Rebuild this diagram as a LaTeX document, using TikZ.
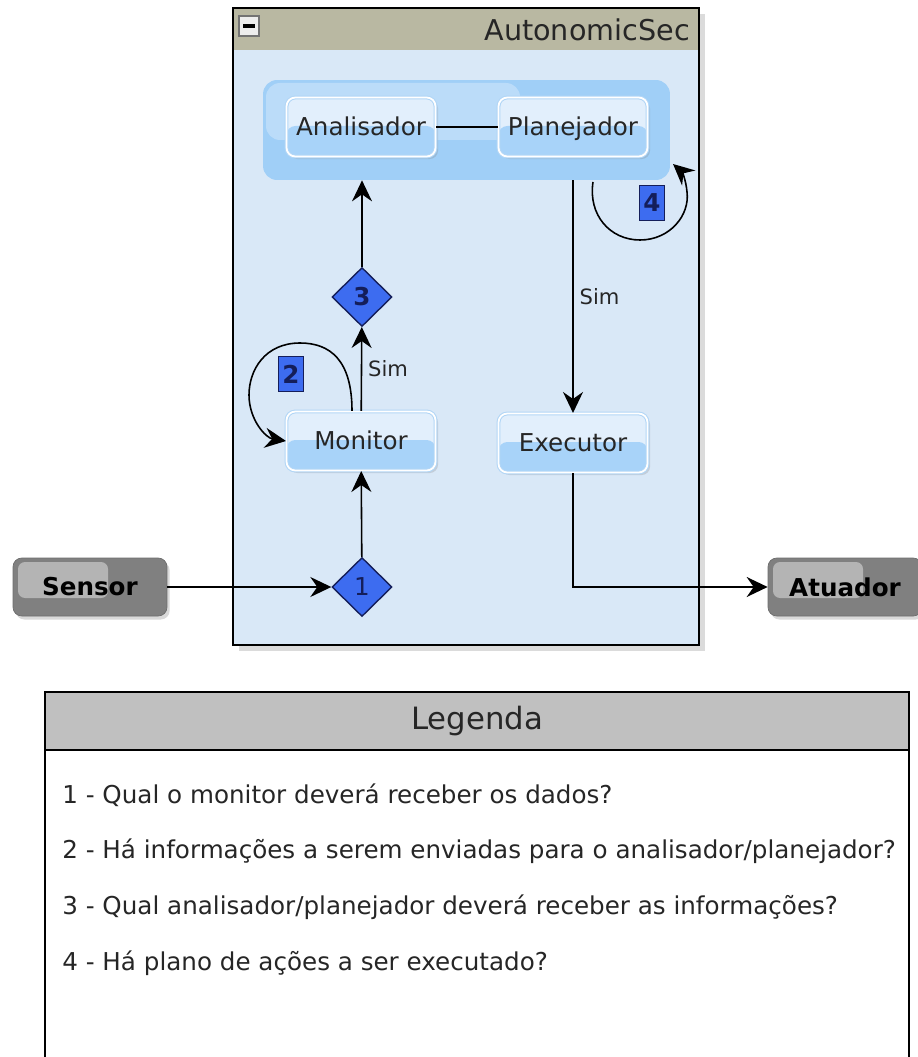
\documentclass[tikz,border=0pt]{standalone}
\usepackage{fontspec}
\setmainfont{DejaVu Sans}
\definecolor{SecFill}   {RGB}{217,232,247}
\definecolor{SecHead}   {RGB}{185,184,162}
\definecolor{GroupBlue} {RGB}{160,207,247}
\definecolor{GroupLight}{RGB}{205,229,251}
\definecolor{CompTop}   {RGB}{226,239,252}
\definecolor{CompBot}   {RGB}{168,211,249}
\definecolor{CompEdge}  {RGB}{178,214,246}
\definecolor{DecFill}   {RGB}{61,108,240}
\definecolor{DecEdge}   {RGB}{20,30,90}
\definecolor{DevFill}   {RGB}{128,128,128}
\definecolor{DevLight}  {RGB}{180,180,180}
\definecolor{LegHead}   {RGB}{192,192,192}
\usetikzlibrary{arrows.meta,positioning,calc,shapes.geometric,shadows}

\begin{document}
\begin{tikzpicture}[x=0.02cm,y=-0.02cm,
    every node/.style={font=\fontsize{14}{16}\selectfont,text=black!85},
    flow/.style={-{Stealth[length=4.2mm,width=4mm,inset=1.4mm]},line width=0.9pt},
    comp/.style={rectangle,rounded corners=5pt,draw=CompEdge,double=white,
      double distance=1pt,line width=0.6pt,fill=CompTop,
      minimum width=2.98cm,minimum height=1.18cm,
      text height=10pt,text depth=0.5pt,
      drop shadow={opacity=0.25,shadow xshift=1.5pt,shadow yshift=-1.5pt},
      path picture={\fill[CompBot] ($(path picture bounding box.west)+(0,-1)$)
        rectangle (path picture bounding box.south east);}},
    decision/.style={diamond,draw=DecEdge,fill=DecFill,line width=0.8pt,
      minimum width=1.2cm,minimum height=1.18cm,inner sep=0pt,text=DecEdge},
    tag/.style={rectangle,draw=DecEdge,fill=DecFill,line width=0.8pt,
      minimum width=0.5cm,minimum height=0.7cm,inner sep=0pt,text=DecEdge,
      font=\fontsize{14}{16}\selectfont\bfseries},
    device/.style={rectangle,rounded corners=5pt,draw=DevFill!85!black,
      fill=DevFill,minimum width=3.08cm,minimum height=1.16cm,text=black,
      font=\fontsize{14}{16}\selectfont\bfseries,
      drop shadow={opacity=0.3,shadow xshift=1.5pt,shadow yshift=-2pt},
      path picture={\fill[DevLight,rounded corners=4pt]
        ($(path picture bounding box.north west)+(5,4)$) rectangle
        ($(path picture bounding box.north west)+(95,40)$);}}]
  \useasboundingbox (0,0) rectangle (918,1057);
  %% AutonomicSec container
  \fill[black!14] (239,14) rectangle (705,651);
  \fill[SecFill] (233,8) rectangle (699,645);
  \fill[SecHead] (233,8) rectangle (699,50);
  \draw[line width=1.2pt] (233,8) rectangle (699,645);
  \draw[black!55,fill=black!7,line width=0.8pt] (239,16) rectangle (259,36);
  \draw[line width=2.2pt] (243,26) -- (255,26);
  \node[anchor=east,font=\fontsize{16.3}{18}\selectfont] (title) at (696,30)
    {AutonomicSec};
  %% Analysis/planning group
  \node[fill=GroupBlue,rounded corners=8pt,minimum width=8.14cm,
        minimum height=2cm] (grp) at (466.5,130) {};
  \fill[GroupLight,opacity=0.6,rounded corners=8pt] (266,83) rectangle (520,140);
  \node[comp] (ana) at (361,127) {Analisador};
  \node[comp] (pla) at (573,127) {Planejador};
  \draw[line width=0.9pt] (ana) -- (pla);
  %% Monitor / Executor
  \node[comp] (mon) at (361,441) {Monitor};
  \node[comp] (exe) at (573,443) {Executor};
  \node[decision] (d1) at (362,587) {1};
  \node[decision,font=\fontsize{14}{16}\selectfont\bfseries] (d3) at (362,297) {3};
  \node[tag] (t2) at (291,374) {2};
  \node[tag] (t4) at (652,203) {4};
  %% Sensor and Atuador
  \node[device] (sen) at (90,587) {Sensor};
  \node[device] (atu) at (845,587) {Atuador};
  %% Flow
  \draw[flow] (sen) -- (d1);
  \draw[flow] (d1) -- (mon);
  \draw[flow] (mon) -- node[right,font=\fontsize{12}{14}\selectfont]{Sim} (d3);
  \draw[flow] (d3) -- (d3 |- grp.south);
  \draw[flow] (pla |- grp.south) --
    node[right,font=\fontsize{12}{14}\selectfont]{Sim} (exe);
  \draw[flow] (exe) |- (atu);
  %% Loops
  \draw[flow] ($(mon.north)+(-9,0)$) .. controls (352,360) and (330,343) .. (300,343)
    .. controls (265,343) and (249,370) .. (249,395)
    .. controls (249,420) and (266,438) .. (mon.west);
  \coordinate (l4s) at (593,182);
  \coordinate (l4e) at (673,164);
  \draw[flow] (l4s) .. controls (588,215) and (610,240) .. (640,240)
    .. controls (670,240) and (690,215) .. (687,192)
    .. controls (686,180) and (682,172) .. (l4e);
  %% Legend
  \draw[line width=1.2pt,fill=white] (45,692) rectangle (909,1090);
  \node[draw,line width=1.2pt,fill=LegHead,minimum width=17.28cm,
        minimum height=1.16cm,font=\fontsize{17.5}{20}\selectfont]
    (leg) at (477,721) {Legenda};
  \foreach \y/\t [count=\i] in {
      795/{1 - Qual o monitor deverá receber os dados?},
      851/{2 - Há informações a serem enviadas para o analisador/planejador?},
      907/{3 - Qual analisador/planejador deverá receber as informações?},
      963/{4 - Há plano de ações a ser executado?}}{
    \node[anchor=west,inner sep=0pt] (leg\i) at (62,\y) {\t};
  }
\end{tikzpicture}
\end{document}
